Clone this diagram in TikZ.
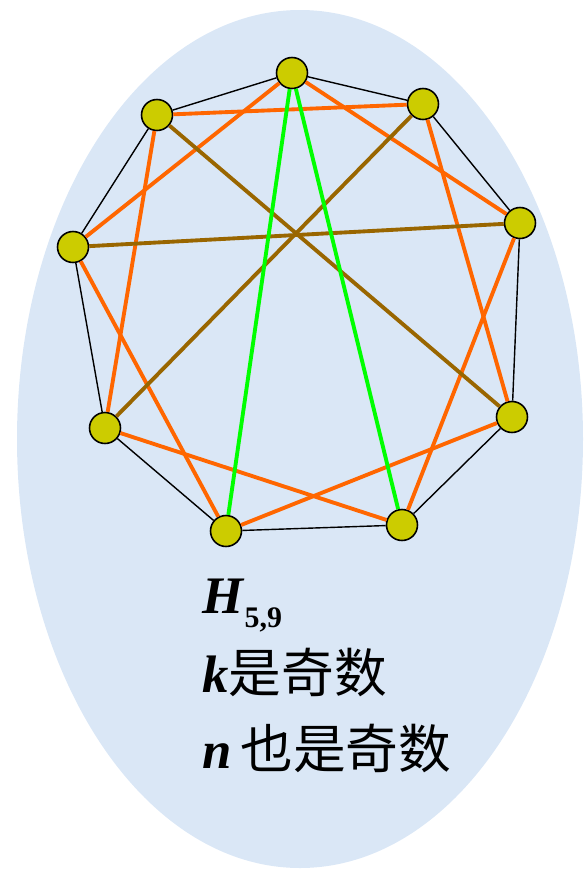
\documentclass[tikz,border=0pt]{standalone}
\usepackage{fontspec}
\setmainfont{Liberation Serif}
\newfontfamily\cjk{Noto Sans CJK SC}
\usetikzlibrary{positioning}

\definecolor{bgblue}{RGB}{218,231,246}
\definecolor{vtxfill}{RGB}{204,204,0}
\definecolor{hoporange}{RGB}{255,102,0}
\definecolor{diagbrown}{RGB}{153,102,0}
\definecolor{diaggreen}{RGB}{0,255,0}

\begin{document}
\begin{tikzpicture}[
    x=0.02cm, y=-0.02cm,
    vtx/.style={circle, draw, line width=0.9pt, fill=vtxfill,
                minimum size=0.62cm, inner sep=0pt},
    cyc/.style={line width=0.8pt},
    hop/.style={draw=hoporange, line width=2.2pt},
    brn/.style={draw=diagbrown, line width=2.2pt},
    grn/.style={draw=diaggreen, line width=2.2pt},
    lbl/.style={anchor=base west, inner sep=0pt,
                font=\fontsize{30}{32}\selectfont}
  ]
  \useasboundingbox (0,0) rectangle (583,869);
  \fill[bgblue] (300,439) ellipse [x radius=283, y radius=429];

  % vertices of the nonagon
  \foreach \n/\x/\y in {v0/292/73, v1/423/104, v2/520/223, v3/512/417,
                        v4/402/525, v5/226/531, v6/105/428, v7/73/247,
                        v8/157/115} {
    \node[vtx] (\n) at (\x,\y) {};
  }

  % cycle
  \foreach \a/\b in {v0/v1, v1/v2, v2/v3, v3/v4, v4/v5, v5/v6, v6/v7,
                     v7/v8, v8/v0} {
    \draw[cyc] (\a) -- (\b);
  }

  % skip 2
  \foreach \a/\b in {v0/v2, v1/v3, v2/v4, v3/v5, v4/v6, v5/v7, v6/v8,
                     v7/v0, v8/v1} {
    \draw[hop] (\a) -- (\b);
  }

  % skip 4
  \foreach \a/\b in {v8/v3, v1/v6, v7/v2} {
    \draw[brn] (\a) -- (\b);
  }
  \draw[grn] (v0) -- (v4);
  \draw[grn] (v0) -- (v5);

  % labels
  \node[lbl] (name) at (202,613)
    {\textbf{\textit{H}}\raisebox{-8pt}{\fontsize{17}{17}\selectfont\textbf{5,9}}};
  \node[lbl] (kodd) at (202,692) {\textbf{\textit{k}}\cjk 是奇数};
  \node[lbl] (nodd) at (202,768) {\textbf{\textit{n}}\,\cjk 也是奇数};
\end{tikzpicture}
\end{document}
